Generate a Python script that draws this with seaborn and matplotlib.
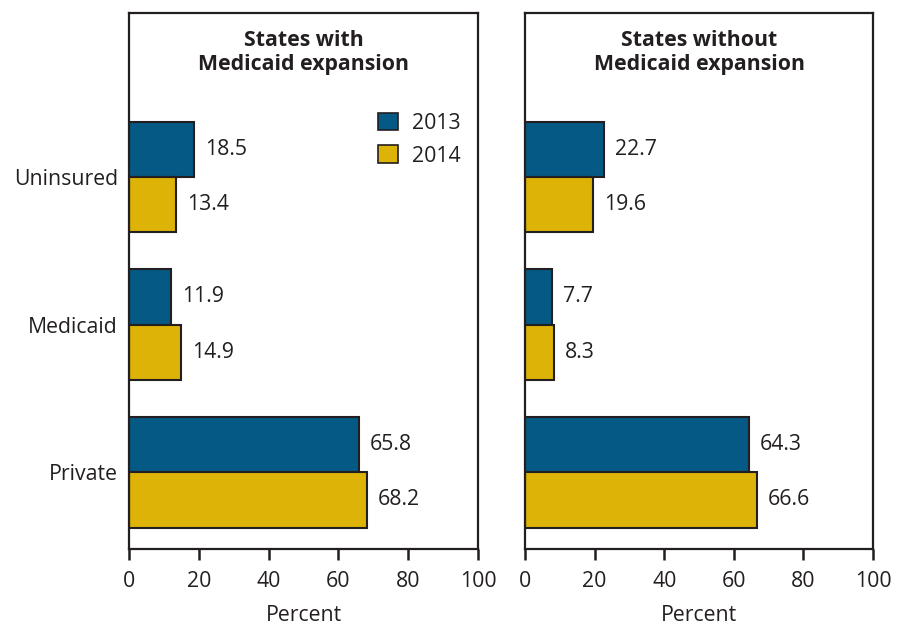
import numpy as np
import pandas as pd
import seaborn as sns
import matplotlib.pyplot as plt
from matplotlib.patches import Patch

categories = ['Uninsured', 'Medicaid', 'Private']
years = ['2013', '2014']
with_exp_2013 = [18.5, 11.9, 65.8]
with_exp_2014 = [13.4, 14.9, 68.2]
without_exp_2013 = [22.7, 7.7, 64.3]
without_exp_2014 = [19.6, 8.3, 66.6]
panel_titles = ['States with\nMedicaid expansion', 'States without\nMedicaid expansion']

blue = '#045a84'
gold = '#dcb306'
ink = '#231f20'

sns.set_theme(style='white')
plt.rcParams['font.family'] = ['Open Sans', 'DejaVu Sans']
plt.rcParams['text.color'] = ink
plt.rcParams['axes.labelcolor'] = ink
plt.rcParams['xtick.color'] = ink
plt.rcParams['ytick.color'] = ink

def make_df(v13, v14):
    return pd.DataFrame({
        'Category': categories * 2,
        'Year': [years[0]] * 3 + [years[1]] * 3,
        'Percent': v13 + v14,
    })

frames = [make_df(with_exp_2013, with_exp_2014), make_df(without_exp_2013, without_exp_2014)]

fs = 15.3

fig = plt.figure(figsize=(9.05, 6.25), dpi=100)
ax1 = fig.add_axes([129 / 905, 1 - 549 / 625, 349 / 905, 536 / 625])
ax2 = fig.add_axes([525 / 905, 1 - 549 / 625, 348 / 905, 536 / 625])

for i, (ax, df) in enumerate(zip([ax1, ax2], frames)):
    sns.barplot(data=df, x='Percent', y='Category', hue='Year', orient='h',
                palette=[blue, gold], saturation=1, width=0.75, gap=0,
                edgecolor=ink, linewidth=1.5, legend=False, ax=ax)
    for cont in ax.containers:
        ax.bar_label(cont, fmt='%.1f', padding=8, fontsize=fs, color=ink)
    ax.set_xlim(0, 100)
    ax.set_ylim(2.52, -1.11)
    ax.set_xticks(range(0, 101, 20))
    ax.set_xlabel('Percent', fontsize=fs, labelpad=9)
    ax.set_ylabel('')
    ax.tick_params(axis='x', bottom=True, direction='out', length=8, width=1.8,
                   labelsize=fs, pad=8)
    ax.tick_params(axis='y', left=False, length=0, labelsize=fs, pad=8)
    for s in ax.spines.values():
        s.set_color(ink)
        s.set_linewidth(1.6)
    ax.text(0.5, 0.968, panel_titles[i], transform=ax.transAxes, ha='center',
            va='top', fontsize=fs, fontweight='bold', linespacing=1.15)
    if i == 1:
        ax.set_yticklabels([])

handles = [Patch(facecolor=blue, edgecolor=ink, linewidth=1.2),
           Patch(facecolor=gold, edgecolor=ink, linewidth=1.2)]
ax1.legend(handles, years, loc='upper left', bbox_to_anchor=(0.66, 0.85),
           frameon=False, fontsize=fs, handlelength=0.9, handleheight=0.9,
           handletextpad=0.7, labelspacing=0.55)

fig.savefig('out.png', dpi=100)
